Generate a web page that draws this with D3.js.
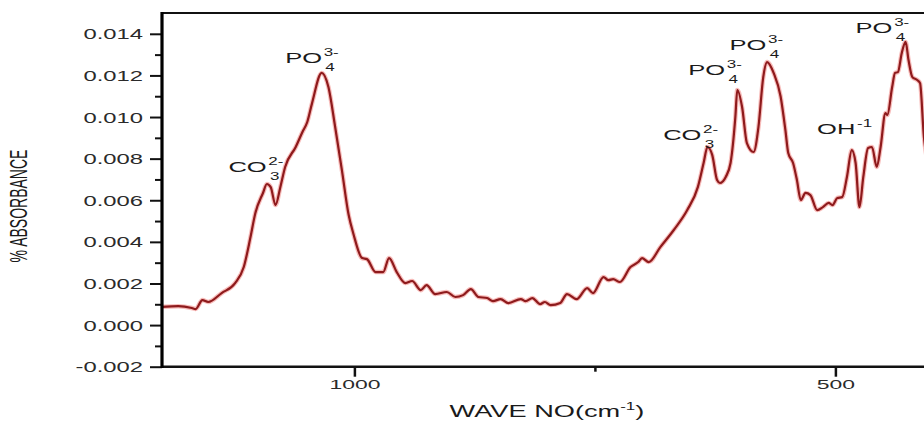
<!DOCTYPE html>
<html>
<head>
<meta charset="utf-8">
<script src="https://cdnjs.cloudflare.com/ajax/libs/d3/7.8.5/d3.min.js"></script>
<style>
  body { margin: 0; background: #fff; }
  svg { display: block; font-family: "Liberation Sans", Arial, sans-serif; }
</style>
</head>
<body>
<svg id="chart" width="924" height="423"></svg>
<script>
// wave number (cm-1) and absorbance
var waveNo = [1200, 1183, 1169, 1165, 1158, 1152, 1138, 1124, 1115, 1108, 1103, 1095, 1091, 1087, 1082, 1077,
  1072, 1061, 1054, 1049, 1044, 1034, 1027, 1020, 1013, 1006, 1001, 992, 987, 978, 970, 964, 956, 947, 940,
  931, 925, 916, 904, 895, 887, 879, 871, 862, 856, 848, 840, 827, 822, 815, 807, 802, 796, 786, 779, 769,
  758, 752, 741, 736, 731, 724, 713, 705, 701, 694, 682, 668, 654, 643, 637, 633, 628, 623, 620, 614, 609,
  604, 602, 597, 592, 585, 580, 575, 571, 564, 557, 552, 549, 544, 540, 536, 531, 526, 519, 513, 507, 503,
  498, 493, 488, 483, 479, 475, 471, 466, 462, 457, 453, 448, 446, 441, 438, 435, 431, 427, 424, 420, 415,
  412, 408, 404];
var absorbance = [0.00088, 0.00091, 0.00082, 0.00077, 0.00120, 0.00111, 0.00154, 0.00202, 0.00279, 0.00423,
  0.00538, 0.00635, 0.00678, 0.00663, 0.00577, 0.00663, 0.00760, 0.00856, 0.00928, 0.00976, 0.01067, 0.01212,
  0.01144, 0.00952, 0.00745, 0.00530, 0.00438, 0.00322, 0.00317, 0.00255, 0.00255, 0.00322, 0.00255, 0.00202,
  0.00212, 0.00168, 0.00192, 0.00149, 0.00159, 0.00135, 0.00144, 0.00173, 0.00135, 0.00130, 0.00115, 0.00125,
  0.00106, 0.00125, 0.00115, 0.00130, 0.00101, 0.00111, 0.00096, 0.00106, 0.00149, 0.00125, 0.00178, 0.00154,
  0.00231, 0.00216, 0.00221, 0.00207, 0.00279, 0.00303, 0.00322, 0.00303, 0.00375, 0.00457, 0.00553, 0.00663,
  0.00779, 0.00856, 0.00817, 0.00697, 0.00683, 0.00712, 0.00779, 0.01000, 0.01130, 0.01048, 0.00875, 0.00832,
  0.00952, 0.01192, 0.01264, 0.01210, 0.01100, 0.00938, 0.00827, 0.00779, 0.00697, 0.00601, 0.00635, 0.00625,
  0.00553, 0.00567, 0.00587, 0.00577, 0.00611, 0.00615, 0.00712, 0.00841, 0.00779, 0.00567, 0.00712, 0.00851,
  0.00856, 0.00760, 0.00856, 0.01019, 0.01010, 0.01144, 0.01212, 0.01216, 0.01308, 0.01361, 0.01274, 0.01192,
  0.01178, 0.01163, 0.00904, 0.00780];

var yMajorTicks = [-0.002, 0, 0.002, 0.004, 0.006, 0.008, 0.010, 0.012, 0.014];
var yMinorTicks = [-0.001, 0.001, 0.003, 0.005, 0.007, 0.009, 0.011, 0.013];
var xMajorTicks = [1000, 500];
var xMinorTicks = [750];

// peak labels: main text, superscript, subscript, anchor (wave no, absorbance)
var peakText = ["CO", "PO", "CO", "PO", "PO", "OH", "PO"];
var peakSup = ["2-", "3-", "2-", "3-", "3-", "-1", "3-"];
var peakSub = ["3", "4", "3", "4", "4", "", "4"];
var peakWave = [1131, 1072, 679, 653, 610, 519, 479];
var peakAbs = [0.00736, 0.01260, 0.00889, 0.01202, 0.01322, 0.00918, 0.01404];

var svg = d3.select("#chart");
var sx = 1.7; // the figure is stretched sideways
var pLeft = 162, pTop = 13, pBottom = 366.7, pRight = 931.6;

var x = d3.scaleLinear().domain([1200, 400]).range([pLeft, pRight]);
var y = d3.scaleLinear().domain([-0.002, 0.015]).range([pBottom, pTop]);

svg.append("rect").attr("width", 924).attr("height", 423).attr("fill", "#fff");

svg.append("clipPath").attr("id", "clip")
  .append("rect").attr("x", pLeft).attr("y", pTop).attr("width", pRight - pLeft).attr("height", pBottom - pTop);

var data = waveNo.map(function(w, i) { return { w: w, a: absorbance[i] }; });
var line = d3.line()
  .x(function(d) { return x(d.w); })
  .y(function(d) { return y(d.a); })
  .curve(d3.curveMonotoneX);

var plot = svg.append("g").attr("clip-path", "url(#clip)");
plot.append("path").datum(data).attr("d", line)
  .attr("fill", "none").attr("stroke", "#e8403a").attr("stroke-opacity", 0.35)
  .attr("stroke-width", 4.5).attr("stroke-linejoin", "round");
plot.append("path").datum(data).attr("d", line)
  .attr("fill", "none").attr("stroke", "#8e1a1c")
  .attr("stroke-width", 2.2).attr("stroke-linejoin", "round");

var fmt = d3.formatLocale({ decimal: ".", thousands: ",", grouping: [3], currency: ["", ""], minus: "-" }).format(".3f");

// y axis
var yAx = svg.append("g").attr("transform", "translate(" + pLeft + ",0)");
yAx.call(d3.axisLeft(y).tickValues(yMajorTicks).tickSize(12).tickFormat(fmt));
yAx.select(".domain").remove();
yAx.selectAll(".tick line").attr("stroke", "#111").attr("stroke-width", 2);
yAx.selectAll("text")
  .attr("x", null).attr("dy", "0.36em")
  .attr("transform", "translate(-19,0) scale(" + sx + ",1)")
  .attr("font-size", 14).attr("fill", "#2a2a2a").attr("font-family", "Liberation Sans, Arial, sans-serif");
var yMin = svg.append("g").attr("transform", "translate(" + pLeft + ",0)");
yMin.call(d3.axisLeft(y).tickValues(yMinorTicks).tickSize(7).tickFormat(""));
yMin.select(".domain").remove();
yMin.selectAll(".tick line").attr("stroke", "#111").attr("stroke-width", 2);

// x axis
var xAx = svg.append("g").attr("transform", "translate(0," + pBottom + ")");
xAx.call(d3.axisBottom(x).tickValues(xMajorTicks).tickSize(10).tickFormat(d3.format("d")));
xAx.select(".domain").remove();
xAx.selectAll(".tick line").attr("stroke", "#111").attr("stroke-width", 2.5);
xAx.selectAll("text")
  .attr("y", null).attr("dy", null)
  .attr("transform", "translate(0,22.5) scale(" + sx + ",1)")
  .attr("font-size", 13.5).attr("fill", "#2a2a2a").attr("font-family", "Liberation Sans, Arial, sans-serif");
var xMin = svg.append("g").attr("transform", "translate(0," + pBottom + ")");
xMin.call(d3.axisBottom(x).tickValues(xMinorTicks).tickSize(5).tickFormat(""));
xMin.select(".domain").remove();
xMin.selectAll(".tick line").attr("stroke", "#111").attr("stroke-width", 2.5);

// frame
svg.append("line").attr("x1", pLeft).attr("x2", 924).attr("y1", pTop).attr("y2", pTop)
  .attr("stroke", "#111").attr("stroke-width", 2.2);
svg.append("line").attr("x1", pLeft).attr("x2", 924).attr("y1", pBottom).attr("y2", pBottom)
  .attr("stroke", "#111").attr("stroke-width", 2.5);
svg.append("line").attr("x1", pLeft).attr("x2", pLeft).attr("y1", pTop - 1).attr("y2", pBottom + 1.2)
  .attr("stroke", "#000").attr("stroke-width", 3.2);

// peak labels
peakText.forEach(function(t, i) {
  var g = svg.append("g")
    .attr("transform", "translate(" + x(peakWave[i]) + "," + y(peakAbs[i]) + ") scale(" + sx + ",1)")
    .attr("fill", "#1a1a1a");
  var main = g.append("text").attr("font-size", 15).text(t);
  var w = main.node().getComputedTextLength();
  g.append("text").attr("x", w + 1).attr("y", -7).attr("font-size", 10).text(peakSup[i]);
  if (peakSub[i]) g.append("text").attr("x", w + 2).attr("y", 8).attr("font-size", 10).text(peakSub[i]);
});

// axis titles
var xt = svg.append("text")
  .attr("transform", "translate(547,417) scale(" + sx + ",1)")
  .attr("text-anchor", "middle").attr("font-size", 16).attr("fill", "#1a1a1a");
xt.append("tspan").text("WAVE NO(cm");
xt.append("tspan").attr("font-size", 10).attr("dy", -7).text("-1");
xt.append("tspan").attr("dy", 7).text(")");

svg.append("text")
  .attr("transform", "translate(27,206) scale(" + sx + ",1) rotate(-90)")
  .attr("text-anchor", "middle").attr("font-size", 14).attr("fill", "#1a1a1a")
  .text("% ABSORBANCE");
</script>
</body>
</html>
